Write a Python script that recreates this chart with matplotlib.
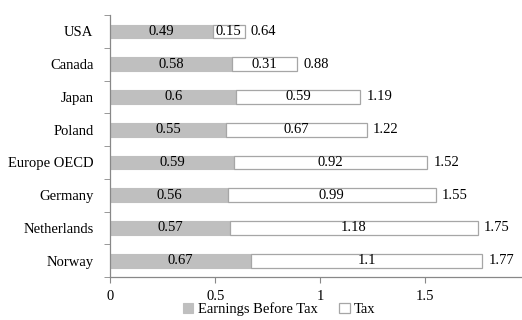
import numpy as np
import matplotlib.pyplot as plt

plt.rcParams['font.family'] = ['Liberation Serif', 'DejaVu Serif']

countries = ['USA', 'Canada', 'Japan', 'Poland', 'Europe OECD', 'Germany', 'Netherlands', 'Norway']
earnings = [0.49, 0.58, 0.6, 0.55, 0.59, 0.56, 0.57, 0.67]
tax = [0.15, 0.31, 0.59, 0.67, 0.92, 0.99, 1.18, 1.1]
totals = ['0.64', '0.88', '1.19', '1.22', '1.52', '1.55', '1.75', '1.77']

fig = plt.figure(figsize=(5.22, 3.2), dpi=100)
ax = fig.add_axes([0.211, 0.134, 0.789, 0.819])

y = np.arange(len(countries))
h = 0.42
edge = '#a6a6a6'
ax.barh(y, earnings, height=h, color='#bfbfbf', edgecolor='#bfbfbf', linewidth=0.8,
        label='Earnings Before Tax')
ax.barh(y, tax, left=earnings, height=h, color='white', edgecolor=edge, linewidth=0.9,
        label='Tax')

for i in range(len(countries)):
    ax.text(earnings[i] / 2, y[i], str(earnings[i]), ha='center', va='center', fontsize=10.5)
    ax.text(earnings[i] + tax[i] / 2, y[i], str(tax[i]), ha='center', va='center', fontsize=10.5)
    ax.text(earnings[i] + tax[i] + 0.03, y[i], totals[i], ha='left', va='center', fontsize=10.5)

ax.set_ylim(len(countries) - 0.5, -0.5)
ax.set_xlim(0, 1.96)
ax.set_yticks(y)
ax.set_yticklabels(countries, fontsize=10.5)
ax.set_yticks(np.arange(-0.5, len(countries), 1), minor=True)
ax.tick_params(axis='y', which='major', length=0, pad=12)
ax.tick_params(axis='y', which='minor', length=4, color='#888888', direction='out')
ax.set_xticks([0, 0.5, 1, 1.5])
ax.set_xticklabels(['0', '0.5', '1', '1.5'], fontsize=10.5)
ax.tick_params(axis='x', length=4, color='#888888', direction='out', pad=5)

for s in ['top', 'right']:
    ax.spines[s].set_visible(False)
for s in ['left', 'bottom']:
    ax.spines[s].set_color('#888888')
    ax.spines[s].set_linewidth(0.9)

fig.legend(loc='upper center', bbox_to_anchor=(0.535, 0.082), ncol=2, frameon=False,
           fontsize=10.5, handlelength=0.7, handleheight=0.7, handletextpad=0.3,
           columnspacing=1.5, borderpad=0.1)

fig.savefig('out.png', dpi=100)
